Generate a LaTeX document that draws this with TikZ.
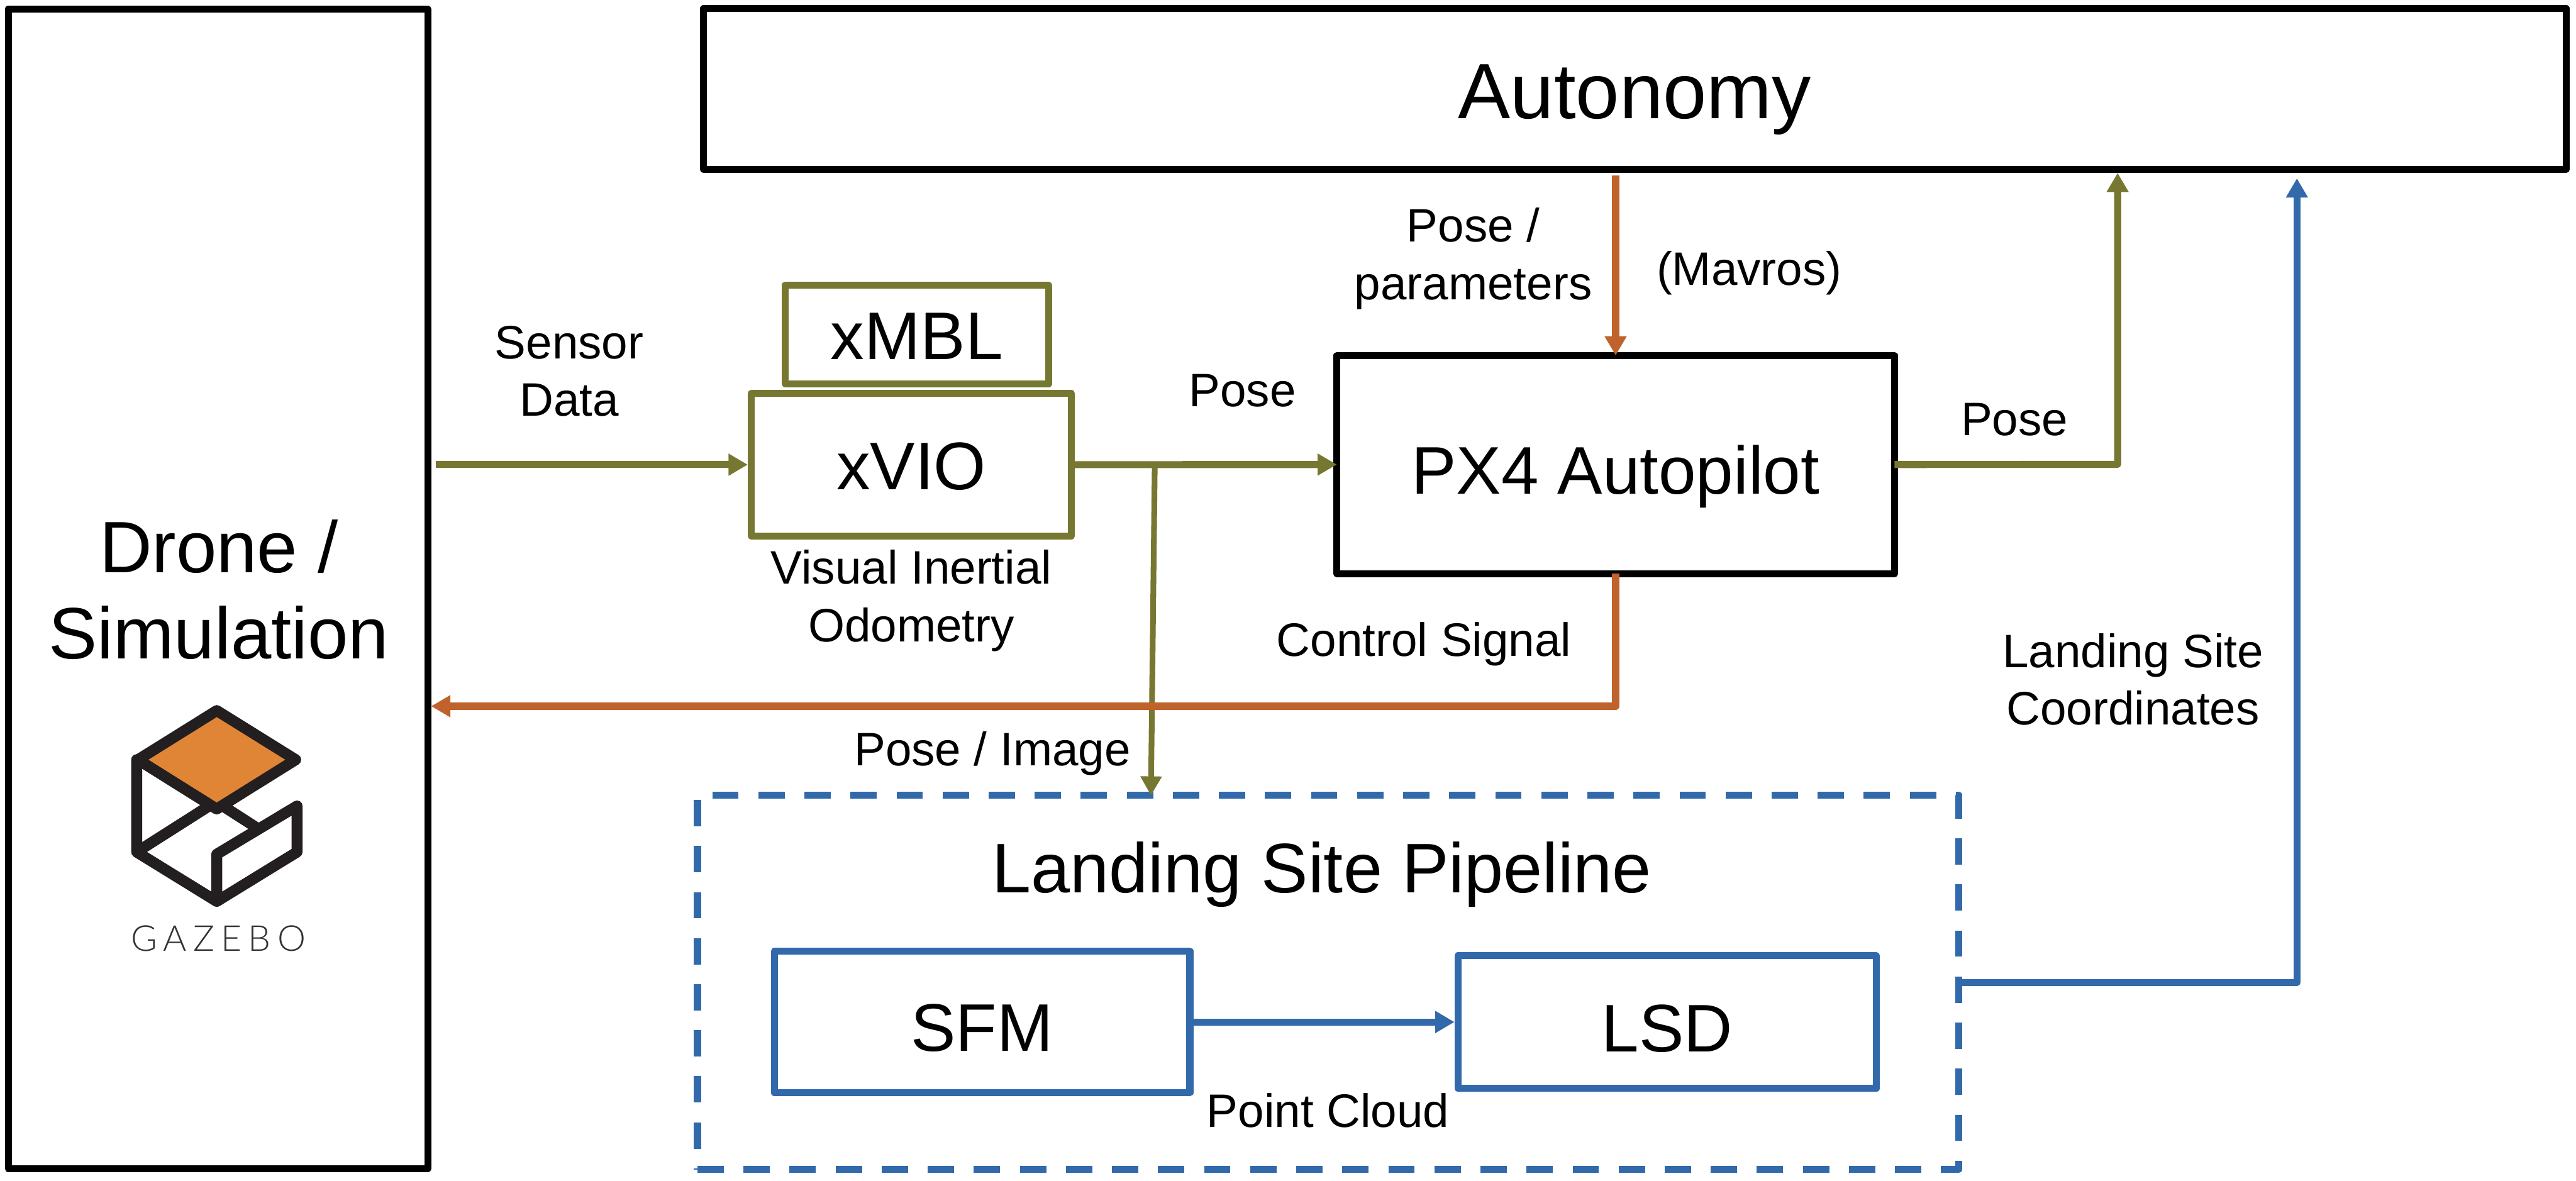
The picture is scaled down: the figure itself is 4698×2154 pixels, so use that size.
\documentclass[tikz,border=0pt]{standalone}
\usepackage{fontspec}
\setmainfont{Liberation Sans}
\newfontfamily\gzfont[LetterSpace=18]{Lato Light}
\usetikzlibrary{arrows.meta}
\definecolor{olivec}{HTML}{767831}
\definecolor{orangec}{HTML}{BF622C}
\definecolor{bluec}{HTML}{3269AB}
\definecolor{logoorange}{HTML}{E08536}
\definecolor{logoblack}{HTML}{231F20}
\tikzset{
  boxn/.style={draw=#1,line width=3.15pt,line join=round,inner sep=0pt,fill=none},
  bigtext/.style={font=\fontsize{30.7}{36}\selectfont},
  lab/.style={font=\fontsize{21.4}{26.25}\selectfont,anchor=base,inner sep=0pt,align=center},
  conn/.style={draw=#1,line width=3.2pt,line join=round,-{Triangle[length=8.75pt,width=9.5pt]},fill=none},
  logoline/.style={draw=logoblack,line width=5pt,line join=round,line cap=round},
}
\begin{document}
\begin{tikzpicture}[x=0.25pt,y=-0.25pt]
\useasboundingbox (0,0) rectangle (4698,2154);
\fill[white] (0,0) rectangle (4698,2154);

% boxes
\node[boxn=black,minimum width=191.25pt,minimum height=528.75pt] (drone) at (397.5,1074) {};
\node[boxn=black,minimum width=849.25pt,minimum height=73.25pt,font=\fontsize{35.75}{42}\selectfont,text height=27.1pt,text depth=0pt] (autonomy) at (2981.5,162.5) {Autonomy};
\node[boxn=olivec,bigtext,minimum width=120pt,minimum height=45pt,text height=22.8pt,text depth=0pt] (xmbl) at (1672,610) {xMBL};
\node[boxn=olivec,bigtext,minimum width=146pt,minimum height=65pt,text height=22.5pt,text depth=0pt] (xvio) at (1662,847.5) {xVIO};
\node[boxn=black,bigtext,outer sep=0pt,minimum width=254.25pt,minimum height=99.5pt,text height=26.8pt,text depth=0pt] (px4) at (2946.5,847.25) {PX4 Autopilot};
\node[boxn=bluec,draw=bluec,line width=3.25pt,dash pattern=on 12pt off 9pt,minimum width=575pt,minimum height=170.75pt] (pipeline) at (2422,1791.5) {};
\node[boxn=bluec,bigtext,line width=3.2pt,minimum width=189.5pt,minimum height=64.5pt,text height=26.3pt,text depth=0pt] (sfm) at (1791,1864) {SFM};
\node[boxn=bluec,bigtext,line width=3.2pt,minimum width=190.75pt,minimum height=60.5pt,text height=27.3pt,text depth=0pt] (lsd) at (3040.5,1864) {LSD};

% titles
\node[font=\fontsize{33.2}{39.5}\selectfont,anchor=base,inner sep=0pt,align=center] (dronelabel) at (399,1202) {Drone /\\Simulation};
\node[font=\fontsize{32}{37}\selectfont,anchor=base,inner sep=0pt] (pipelabel) at (2411,1628) {Landing Site Pipeline};

% connectors
\coordinate (branch) at (2106,847);
\coordinate (branchtip) at (2099,1451);
\coordinate (poseturn) at (3862,847);
\coordinate (lsout) at (4189,1792);
\coordinate (ctl) at (2946.5,1288);
\draw[conn=olivec,shorten <=2pt] (drone.east |- xvio.west) -- (xvio.west);
\draw[conn=olivec] (xvio.east) -- (px4.west);
\draw[conn=olivec,line width=2.6pt,-{Triangle[length=8.75pt,width=9.25pt]}] (branch) -- (branchtip);
\draw[conn=olivec] (px4.east) -- (poseturn) -- (poseturn |- autonomy.south);
\draw[conn=orangec,shorten <=1.25pt] (px4.north |- autonomy.south) -- (px4.north);
\draw[conn=orangec] (px4.south) -- (ctl) -- (drone.east |- ctl);
\draw[conn=bluec] (sfm.east) -- (lsd.west);
\draw[conn=bluec,shorten >=2.5pt] (pipeline.east |- lsout) -- (lsout) -- (lsout |- autonomy.south);

% labels
\node[lab] (l1) at (1038,759) {Sensor\\Data};
\node[lab] (l2) at (2266,741) {Pose};
\node[lab] (l3) at (1662,1170) {Visual Inertial\\Odometry};
\node[lab] (l4) at (1810,1396) {Pose / Image};
\node[lab] (l5) at (2687,546) {Pose /\\parameters};
\node[lab] (l6) at (3190,520) {(Mavros)};
\node[lab] (l7) at (3674,794) {Pose};
\node[lab] (l8) at (2597,1197) {Control Signal};
\node[lab] (l9) at (3890,1322) {Landing Site\\Coordinates};
\node[lab] (l10) at (2422,2056) {Point Cloud};

% Gazebo logo
\filldraw[logoline,fill=logoorange] (395.3,1296) -- (539.3,1385.6) -- (395.3,1475.5) -- (251.7,1385.6) -- cycle;
\draw[logoline] (249.3,1385.6) -- (249.3,1554) -- (395.3,1644) -- (541.7,1554) -- (541.7,1470) -- (395.3,1558) -- (395.3,1644);
\draw[logoline,line cap=butt] (249.3,1554) -- (383.3,1468.7);
\draw[logoline,line cap=butt] (403.3,1468) -- (471.7,1512);
\node[font=\gzfont\fontsize{16.3}{20}\selectfont,text=black!80,anchor=base,inner sep=0pt] (gazebo) at (398,1735) {GAZEBO};
\end{tikzpicture}
\end{document}
